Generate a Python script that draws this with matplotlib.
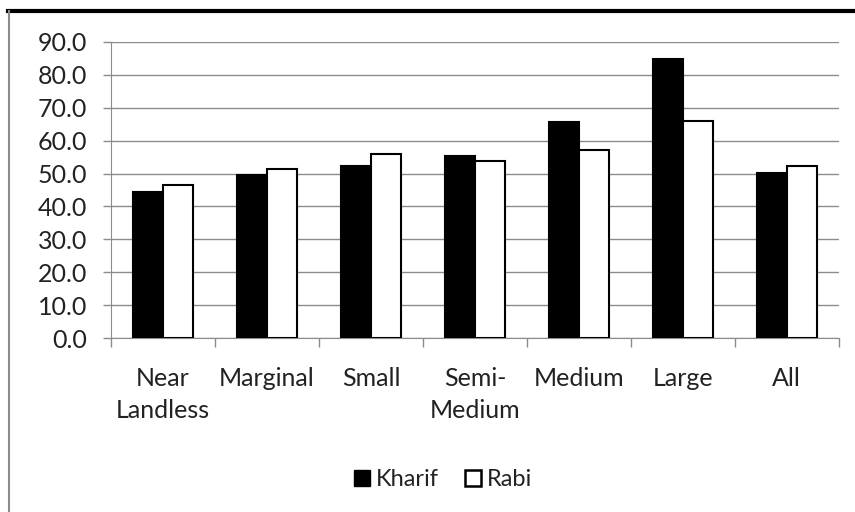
import matplotlib.pyplot as plt
from matplotlib.lines import Line2D
import numpy as np

plt.rcParams['font.family'] = ['Lato', 'DejaVu Sans']

categories = ["Near\nLandless", "Marginal", "Small", "Semi-\nMedium", "Medium", "Large", "All"]
kharif = [44.4, 49.6, 52.3, 55.4, 65.8, 84.9, 50.2]
rabi = [46.5, 51.4, 55.8, 53.9, 57.1, 66.1, 52.4]
yticks = [0, 10, 20, 30, 40, 50, 60, 70, 80, 90]

fig = plt.figure(figsize=(8.55, 5.12), dpi=100)
ax = fig.add_axes([0.1298, 0.3398, 0.8512, 0.5782])

x = np.arange(len(categories))
w = 0.29
ax.bar(x - w / 2, kharif, w, color="black", edgecolor="black", linewidth=1.5, zorder=3, label="Kharif")
ax.bar(x + w / 2, rabi, w, color="white", edgecolor="black", linewidth=1.5, zorder=3, label="Rabi")

ax.set_xlim(-0.5, len(categories) - 0.5)
ax.set_ylim(0, 90)
ax.set_yticks(yticks)
ax.set_yticklabels(["%.1f" % v for v in yticks], fontsize=18, color="#222222")
ax.yaxis.grid(True, color="#8c8c8c", linewidth=1.0, zorder=0)

# category boundaries get tick marks, labels sit between them
ax.set_xticks(np.arange(len(categories) + 1) - 0.5)
ax.set_xticklabels([])
ax.set_xticks(x, minor=True)
ax.set_xticklabels(categories, minor=True, fontsize=18, color="#222222", linespacing=1.45)
ax.tick_params(axis="x", which="major", length=6.5, direction="out", color="#8c8c8c", width=1)
ax.tick_params(axis="x", which="minor", length=0, pad=21)
ax.tick_params(axis="y", length=6, direction="out", color="#8c8c8c", width=1, pad=11)

for s in ["top", "right"]:
    ax.spines[s].set_visible(False)
ax.spines["left"].set_color("#8c8c8c")
ax.spines["bottom"].set_color("#8c8c8c")

handles = [
    Line2D([], [], marker="s", linestyle="none", markersize=11, markerfacecolor="black", markeredgecolor="black"),
    Line2D([], [], marker="s", linestyle="none", markersize=11, markerfacecolor="white", markeredgecolor="black", markeredgewidth=1.8),
]
fig.legend(handles, ["Kharif", "Rabi"], loc="center", bbox_to_anchor=(0.518, 1 - 480 / 512), ncol=2,
           frameon=False, fontsize=17, handlelength=0.7, handletextpad=0.25, columnspacing=1.1,
           labelcolor="#222222")

# outer chart frame: heavy line on top, thin grey on the left
fig.add_artist(Line2D([8 / 855, 1.0], [1 - 11 / 512] * 2, transform=fig.transFigure, color="black", linewidth=3))
fig.add_artist(Line2D([9 / 855] * 2, [0, 1 - 11 / 512], transform=fig.transFigure, color="#8c8c8c", linewidth=1.5))

fig.savefig("out.png", dpi=100)
